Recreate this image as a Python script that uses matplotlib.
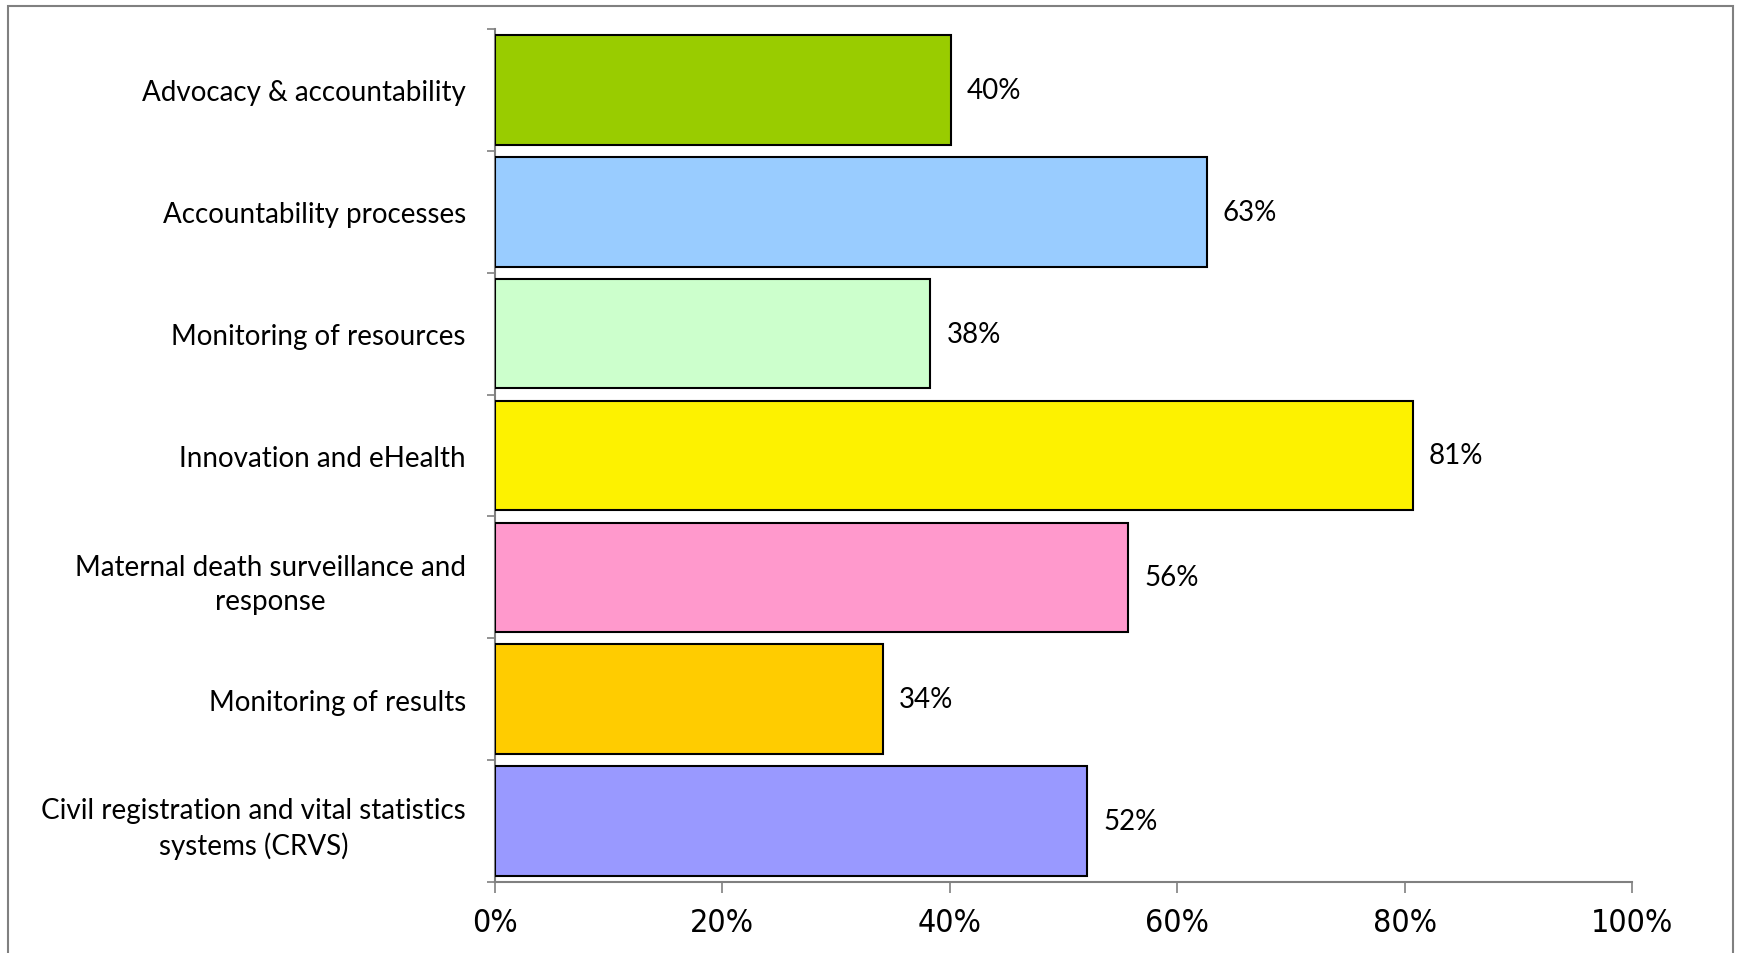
import matplotlib.pyplot as plt
from matplotlib.patches import Rectangle
import numpy as np

categories = [
    'Civil registration and vital statistics\nsystems (CRVS)',
    'Monitoring of results',
    'Maternal death surveillance and\nresponse',
    'Innovation and eHealth',
    'Monitoring of resources',
    'Accountability processes',
    'Advocacy & accountability',
]
values = [52.1, 34.1, 55.7, 80.7, 38.3, 62.6, 40.1]
colors = ['#9999FF', '#FFCC00', '#FF99CC', '#FDF200', '#CCFFCC', '#99CCFF', '#99CC00']
xticks = [0, 20, 40, 60, 80, 100]

label_font = 'Lato'

fig = plt.figure(figsize=(17.41, 9.54), dpi=100)
ax = fig.add_axes([0.2843, 0.0744, 0.6531, 0.8942])

y = np.arange(len(categories))
ax.barh(y, values, height=0.9, color=colors, edgecolor='black', linewidth=1.5, zorder=3)

for yi, v in zip(y, values):
    ax.text(v + 1.4, yi, f'{v:.0f}%', va='center', ha='left', fontsize=20, family=label_font)

ax.set_xlim(0, 100)
ax.set_ylim(-0.5, len(categories) - 0.5)

ax.set_xticks(xticks)
ax.set_xticklabels([f'{t}%' for t in xticks], fontsize=23, family='DejaVu Sans',
                   fontstretch='condensed')
ax.set_yticks(y)
ax.set_yticklabels(categories, fontsize=20, family=label_font, multialignment='center',
                   linespacing=1.4)
ax.set_yticks(np.arange(len(categories) + 1) - 0.5, minor=True)

ax.tick_params(axis='y', which='major', length=0, pad=21)
ax.tick_params(axis='y', which='minor', length=6, color='#808080', width=1.2)
ax.tick_params(axis='x', length=8, color='#808080', width=1.2, pad=10)

for s in ['top', 'right']:
    ax.spines[s].set_visible(False)
for s in ['left', 'bottom']:
    ax.spines[s].set_color('#808080')
    ax.spines[s].set_linewidth(1.5)

# outer chart border
fig.patches.append(Rectangle((0.0045, -0.02), 0.991, 1.013, transform=fig.transFigure,
                             fill=False, edgecolor='#808080', linewidth=1.5))

fig.savefig('out.png', dpi=100)
